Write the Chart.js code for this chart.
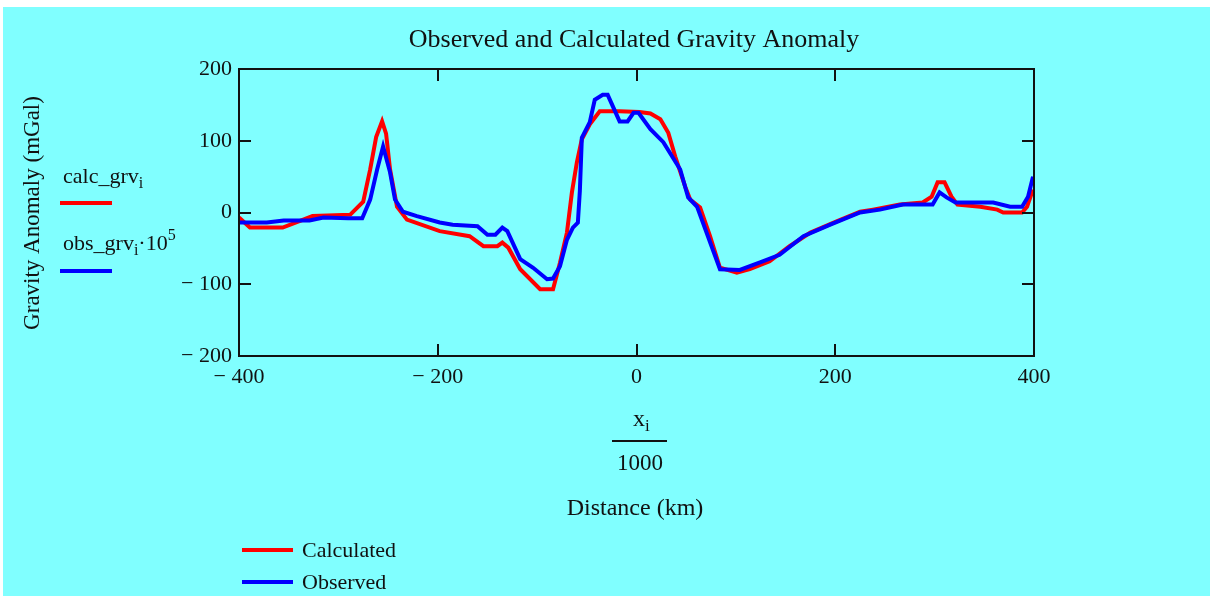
<!DOCTYPE html>
<html>
<head>
<meta charset="utf-8">
<script src="https://cdn.jsdelivr.net/npm/chart.js@4.4.0/dist/chart.umd.min.js"></script>
<style>
  html, body { margin: 0; padding: 0; background: #fff; }
  canvas { display: block; }
</style>
</head>
<body>
<canvas id="grav" width="1213" height="598"></canvas>
<script>
// distance (km) and anomaly (mGal)
const calcX = [-400,-389,-356,-326,-288,-275,-268,-262,-256,-252,-248,-241,-231,-198,-168,-154,-140,-135,-129,-117,-97,-84,-77,-70,-65,-60,-55,-47,-37,-17,3,14,24,32,39,49,54,64,74,84,101,114,134,154,175,202,225,238,265,288,297,303,310,317,323,346,363,369,388,393,399]
const calcY = [-7,-21,-21,-5,-3,15,60,105,127,110,60,8,-10,-26,-33,-47,-47,-42,-49,-79,-107,-107,-70,-28,28,70,102,123,141,141,140,138,130,111,78,36,18,7,-33,-77,-84,-79,-68,-47,-28,-12,1,4,11,14,22,42,42,22,11,8,4,0,0,8,32]

const obsX = [-400,-372,-355,-329,-315,-290,-276,-268,-261,-255,-248,-243,-235,-221,-198,-185,-160,-150,-142,-135,-130,-117,-104,-90,-84,-77,-70,-64,-59,-57,-55,-47,-42,-34,-29,-17,-9,-3,2,14,27,44,52,61,84,104,127,144,168,195,225,245,268,298,305,312,321,359,376,388,394,399]
const obsY = [-14,-14,-11,-11,-7,-8,-8,18,60,92,56,18,1,-5,-14,-17,-19,-31,-31,-21,-26,-65,-77,-93,-92,-75,-38,-21,-14,30,104,126,157,164,164,127,127,139,139,116,98,60,21,8,-79,-80,-68,-59,-33,-17,0,4,11,11,28,21,14,14,8,8,22,50]

const X_TICKS = [-400, -200, 0, 200, 400]
const Y_TICKS = [-200, -100, 0, 100, 200]
const LABELS = ['Calculated', 'Observed']
const COLORS = ['#ff0000', '#0000ff']

const FONT = '"Liberation Serif", "Times New Roman", serif'
const INK = '#111111'

const fmt = v => v < 0 ? '\u2212 ' + Math.abs(v) : String(v)

// draw a run of text pieces (sub/superscripts) starting at x
function drawParts(ctx, x, y, parts) {
  parts.forEach(p => {
    ctx.font = `${p.size || 22}px ${FONT}`
    ctx.fillText(p.t, x, y + (p.dy || 0))
    x += ctx.measureText(p.t).width
  })
}

const backdrop = {
  id: 'backdrop',
  beforeDraw(chart) {
    const ctx = chart.ctx
    ctx.save()
    ctx.fillStyle = '#ffffff'
    ctx.fillRect(0, 0, chart.width, chart.height)
    ctx.fillStyle = '#80ffff'
    ctx.fillRect(3, 7, 1207, 589)
    ctx.restore()
  }
}

const frame = {
  id: 'frame',
  afterDatasetsDraw(chart) {
    const { ctx, chartArea: a, scales } = chart
    ctx.save()
    ctx.strokeStyle = INK
    ctx.lineWidth = 2
    ctx.strokeRect(a.left, a.top, a.right - a.left, a.bottom - a.top)
    ctx.beginPath()
    X_TICKS.slice(1, -1).forEach(v => {
      const px = Math.round(scales.x.getPixelForValue(v))
      ctx.moveTo(px, a.bottom); ctx.lineTo(px, a.bottom - 12)
      ctx.moveTo(px, a.top); ctx.lineTo(px, a.top + 12)
    })
    Y_TICKS.slice(1, -1).forEach(v => {
      const py = Math.round(scales.y.getPixelForValue(v))
      ctx.moveTo(a.left, py); ctx.lineTo(a.left + 12, py)
      ctx.moveTo(a.right, py); ctx.lineTo(a.right - 12, py)
    })
    ctx.stroke()
    ctx.restore()
  }
}

const texts = {
  id: 'texts',
  afterDraw(chart) {
    const ctx = chart.ctx
    ctx.save()
    ctx.fillStyle = INK
    ctx.textBaseline = 'alphabetic'

    // title
    ctx.textAlign = 'center'
    ctx.font = `26px ${FONT}`
    ctx.fillText('Observed and Calculated Gravity Anomaly', 634, 47)

    // y axis title
    ctx.save()
    ctx.translate(39, 213)
    ctx.rotate(-Math.PI / 2)
    ctx.font = `23px ${FONT}`
    ctx.fillText('Gravity Anomaly (mGal)', 0, 0)
    ctx.restore()

    // x axis expression: x_i / 1000
    ctx.textAlign = 'left'
    drawParts(ctx, 633, 426, [{ t: 'x', size: 24 }, { t: 'i', size: 17, dy: 5 }])
    ctx.fillRect(612, 440, 55, 2)
    ctx.textAlign = 'center'
    ctx.font = `23px ${FONT}`
    ctx.fillText('1000', 640, 470)
    ctx.font = `24px ${FONT}`
    ctx.fillText('Distance (km)', 635, 515)

    // left trace labels
    ctx.textAlign = 'left'
    drawParts(ctx, 63, 183, [{ t: 'calc_grv' }, { t: 'i', size: 16, dy: 5 }])
    drawParts(ctx, 63, 250, [{ t: 'obs_grv' }, { t: 'i', size: 16, dy: 5 }, { t: '\u00b710' }, { t: '5', size: 16, dy: -10 }])
    ctx.lineWidth = 4
    ctx.strokeStyle = COLORS[0]
    ctx.beginPath(); ctx.moveTo(60, 203); ctx.lineTo(112, 203); ctx.stroke()
    ctx.strokeStyle = COLORS[1]
    ctx.beginPath(); ctx.moveTo(60, 271); ctx.lineTo(112, 271); ctx.stroke()

    // bottom legend
    const rows = [550, 582]
    LABELS.forEach((lab, i) => {
      ctx.strokeStyle = COLORS[i]
      ctx.beginPath(); ctx.moveTo(242, rows[i]); ctx.lineTo(293, rows[i]); ctx.stroke()
      ctx.font = `22px ${FONT}`
      ctx.fillText(lab, 302, rows[i] + 7)
    })
    ctx.restore()
  }
}

const toPts = (xs, ys) => xs.map((x, i) => ({ x, y: ys[i] }))

new Chart(document.getElementById('grav'), {
  type: 'line',
  data: {
    datasets: [
      { label: LABELS[0], data: toPts(calcX, calcY), borderColor: COLORS[0], borderWidth: 4, pointRadius: 0, tension: 0, order: 2 },
      { label: LABELS[1], data: toPts(obsX, obsY), borderColor: COLORS[1], borderWidth: 4, pointRadius: 0, tension: 0, order: 1 },
    ]
  },
  options: {
    responsive: false,
    animation: false,
    events: [],
    layout: { padding: { left: 0, top: 69, right: 179, bottom: 0 } },
    plugins: { legend: { display: false }, tooltip: { enabled: false }, title: { display: false } },
    scales: {
      x: {
        type: 'linear', min: -400, max: 400,
        afterBuildTicks: s => { s.ticks = X_TICKS.map(v => ({ value: v })) },
        afterFit: s => { s.height = 242 },
        grid: { display: false, drawTicks: false },
        border: { display: false },
        ticks: { callback: fmt, padding: 8, color: INK, font: { family: FONT, size: 22 }, maxRotation: 0 },
      },
      y: {
        type: 'linear', min: -200, max: 200,
        afterBuildTicks: s => { s.ticks = Y_TICKS.map(v => ({ value: v })) },
        afterFit: s => { s.width = 239 },
        grid: { display: false, drawTicks: false },
        border: { display: false },
        ticks: { callback: fmt, padding: 7, color: INK, font: { family: FONT, size: 22 } },
      },
    },
  },
  plugins: [backdrop, frame, texts],
})
</script>
</body>
</html>
